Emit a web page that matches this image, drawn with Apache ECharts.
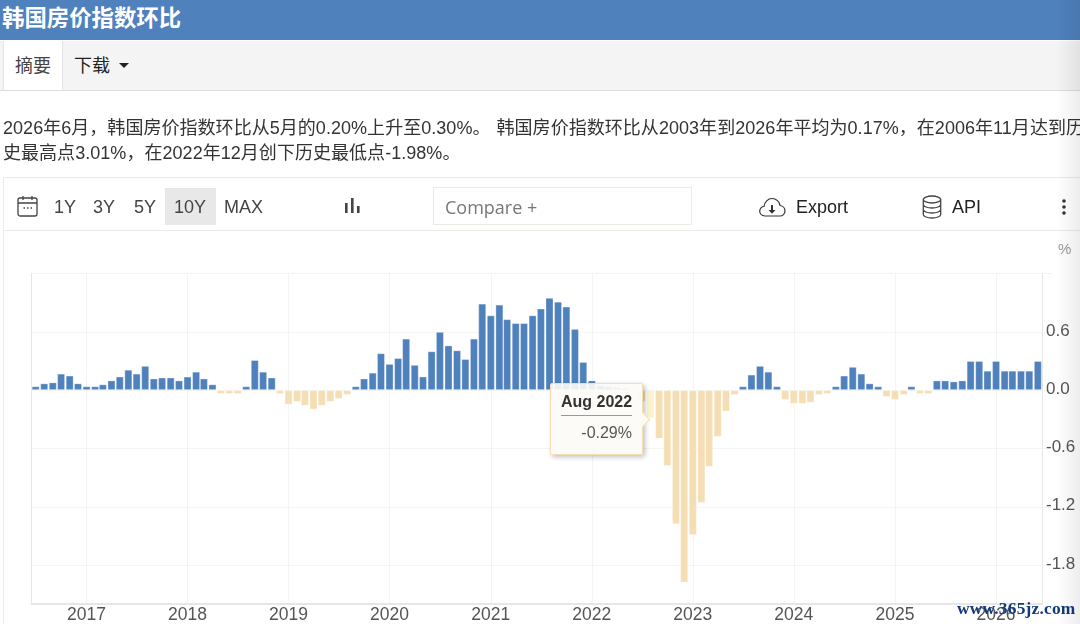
<!DOCTYPE html>
<html lang="zh">
<head>
<meta charset="utf-8">
<title>韩国房价指数环比</title>
<script src="https://cdn.jsdelivr.net/npm/echarts@6/dist/echarts.min.js"></script>
<style>
html,body{margin:0;padding:0;width:1080px;height:624px;overflow:hidden;background:#fff;font-family:"Liberation Sans","Noto Sans CJK SC",sans-serif;}
.abs{position:absolute;white-space:nowrap;}
#chart{position:absolute;left:0;top:0;width:1080px;height:624px;}
#title{left:0;top:0;width:1080px;height:40px;background:#4f81bd;color:#fff;font-size:22.4px;font-weight:bold;line-height:38px;padding-left:2px;box-sizing:border-box;}
#nav{left:0;top:41px;width:1080px;height:50px;background:#f4f4f4;border-bottom:1px solid #ddd;box-sizing:border-box;}
#tab{left:3px;top:41px;width:60px;height:49px;background:#fff;border-left:1px solid #e4e4e4;border-right:1px solid #e4e4e4;box-sizing:border-box;color:#444;font-size:18px;line-height:50px;text-align:center;}
#dl{left:74px;top:41px;color:#222;font-size:18px;line-height:50px;}
#caret{left:119px;top:63px;width:0;height:0;border-left:5px solid transparent;border-right:5px solid transparent;border-top:5px solid #222;}
.para{left:3px;color:#333;font-size:18px;line-height:25px;width:1077px;overflow:hidden;letter-spacing:.04px;word-spacing:1px;}
.tb{font-size:18px;color:#444;line-height:24px;top:195px;}
#frame{left:3px;top:177px;width:1077px;height:54px;border:1px solid #ebebeb;border-right:none;box-sizing:border-box;}
#frameL{left:3px;top:231px;width:1px;height:393px;background:#ebebeb;}
#active{left:165px;top:188px;width:51px;height:37px;background:#e8e8e8;}
#cmp{left:433px;top:187px;width:259px;height:38px;border:1px solid #ecebe4;box-sizing:border-box;color:#777;font-size:18px;line-height:38px;padding-left:11px;font-family:"Open Sans",sans-serif;}
#pct{left:1058px;top:240px;color:#999;font-size:15px;}
#mark{left:957px;top:598px;color:#123a7c;font-family:"Liberation Serif",serif;font-weight:bold;font-size:17.4px;letter-spacing:.2px;}
#shade{left:1056px;top:0;width:24px;height:624px;background:linear-gradient(to right,rgba(0,0,0,0),rgba(0,0,0,.07));pointer-events:none;}
svg{position:absolute;overflow:visible;}
</style>
</head>
<body>
<div id="chart"></div>
<div class="abs" id="title">韩国房价指数环比</div>
<div class="abs" id="nav"></div>
<div class="abs" id="tab">摘要</div>
<div class="abs" id="dl">下载</div>
<div class="abs" id="caret"></div>
<div class="abs para" style="top:116px">2026年6月，韩国房价指数环比从5月的0.20%上升至0.30%。 韩国房价指数环比从2003年到2026年平均为0.17%，在2006年11月达到历</div>
<div class="abs para" style="top:141px">史最高点3.01%，在2022年12月创下历史最低点-1.98%。</div>
<div class="abs" id="frame"></div>
<div class="abs" id="frameL"></div>
<div class="abs" id="active"></div>
<svg style="left:17px;top:195px" width="21" height="23" fill="none" stroke="#444" stroke-width="1.3"><rect x="1" y="3" width="19" height="18" rx="2"/><path d="M1 8h19M6 1v4M15 1v4"/><path d="M6.5 13h1.5M10 13h1.5M13.5 13h1.5" stroke-width="1.6"/></svg>
<div class="abs tb" style="left:54px">1Y</div>
<div class="abs tb" style="left:93px">3Y</div>
<div class="abs tb" style="left:134px">5Y</div>
<div class="abs tb" style="left:174px">10Y</div>
<div class="abs tb" style="left:224px">MAX</div>
<svg style="left:344px;top:197px" width="17" height="18" fill="#444"><rect x="1" y="6" width="2.6" height="10"/><rect x="7" y="1" width="2.6" height="15"/><rect x="13" y="9" width="2.6" height="7"/></svg>
<div class="abs" id="cmp">Compare +</div>
<svg style="left:759px;top:197px" width="27" height="21" fill="none" stroke="#333" stroke-width="1.2"><path d="M6 19C2.5 19 .7 16.500 .7 14 .7 11.500 2.800 9.500 5 9.500 5.500 5 9 1.500 13 1.500 17.500 1.500 20.500 5 21 8.500 24 9 26 11.500 26 14 26 17 23.500 19 21 19Z"/><path d="M13 8v7" stroke-width="2"/><path d="M9.500 13h7L13 16.800Z" fill="#333" stroke="none"/></svg>
<div class="abs tb" style="left:796px;color:#222">Export</div>
<svg style="left:922px;top:195px" width="20" height="24" fill="none" stroke="#444" stroke-width="1.3"><ellipse cx="10" cy="4.500" rx="8.700" ry="3.500"/><path d="M1.300 4.500v15c0 2 4 3.500 8.700 3.500s8.700-1.500 8.700-3.500v-15M1.300 9.500c0 2 4 3.500 8.700 3.500s8.700-1.500 8.700-3.500M1.300 14.500c0 2 4 3.500 8.700 3.500s8.700-1.500 8.700-3.500"/></svg>
<div class="abs tb" style="left:952px;color:#222">API</div>
<svg style="left:1061px;top:198px" width="6" height="18" fill="#333"><circle cx="3" cy="3" r="1.800"/><circle cx="3" cy="9" r="1.800"/><circle cx="3" cy="15" r="1.800"/></svg>
<div class="abs" id="pct">%</div>
<div class="abs" id="mark">www.365jz.com</div>
<div class="abs" id="shade"></div>
<script>
var months = [
'2016-07-01','2016-08-01','2016-09-01','2016-10-01','2016-11-01','2016-12-01',
'2017-01-01','2017-02-01','2017-03-01','2017-04-01','2017-05-01','2017-06-01','2017-07-01','2017-08-01','2017-09-01','2017-10-01','2017-11-01','2017-12-01',
'2018-01-01','2018-02-01','2018-03-01','2018-04-01','2018-05-01','2018-06-01','2018-07-01','2018-08-01','2018-09-01','2018-10-01','2018-11-01','2018-12-01',
'2019-01-01','2019-02-01','2019-03-01','2019-04-01','2019-05-01','2019-06-01','2019-07-01','2019-08-01','2019-09-01','2019-10-01','2019-11-01','2019-12-01',
'2020-01-01','2020-02-01','2020-03-01','2020-04-01','2020-05-01','2020-06-01','2020-07-01','2020-08-01','2020-09-01','2020-10-01','2020-11-01','2020-12-01',
'2021-01-01','2021-02-01','2021-03-01','2021-04-01','2021-05-01','2021-06-01','2021-07-01','2021-08-01','2021-09-01','2021-10-01','2021-11-01','2021-12-01',
'2022-01-01','2022-02-01','2022-03-01','2022-04-01','2022-05-01','2022-06-01','2022-07-01','2022-08-01','2022-09-01','2022-10-01','2022-11-01','2022-12-01',
'2023-01-01','2023-02-01','2023-03-01','2023-04-01','2023-05-01','2023-06-01','2023-07-01','2023-08-01','2023-09-01','2023-10-01','2023-11-01','2023-12-01',
'2024-01-01','2024-02-01','2024-03-01','2024-04-01','2024-05-01','2024-06-01','2024-07-01','2024-08-01','2024-09-01','2024-10-01','2024-11-01','2024-12-01',
'2025-01-01','2025-02-01','2025-03-01','2025-04-01','2025-05-01','2025-06-01','2025-07-01','2025-08-01','2025-09-01','2025-10-01','2025-11-01','2025-12-01',
'2026-01-01','2026-02-01','2026-03-01','2026-04-01','2026-05-01','2026-06-01'];
var values = [
0.04,0.07,0.08,0.17,0.15,0.07,
0.04,0.04,0.06,0.10,0.14,0.21,0.17,0.25,0.12,0.13,0.13,0.10,
0.14,0.19,0.12,0.06,-0.04,-0.04,-0.04,0.04,0.31,0.19,0.13,-0.04,
-0.15,-0.12,-0.16,-0.20,-0.16,-0.12,-0.09,-0.05,0.04,0.12,0.18,0.38,
0.27,0.33,0.53,0.26,0.14,0.40,0.60,0.46,0.41,0.32,0.53,0.89,
0.77,0.88,0.73,0.69,0.69,0.77,0.84,0.95,0.91,0.86,0.63,0.29,
0.10,0.05,0.04,0.03,0.02,0.01,-0.12,-0.29,-0.50,-0.78,-1.38,-1.98,
-1.49,-1.16,-0.79,-0.48,-0.22,-0.05,0.04,0.16,0.25,0.19,0.04,-0.10,
-0.14,-0.14,-0.13,-0.05,-0.04,0.04,0.15,0.24,0.17,0.07,0.04,-0.07,
-0.10,-0.05,0.04,-0.04,-0.04,0.10,0.10,0.09,0.10,0.30,0.30,0.20,
0.30,0.20,0.20,0.20,0.20,0.30];
var yearTicks = ['2017-01-01','2018-01-01','2019-01-01','2020-01-01','2021-01-01','2022-01-01','2023-01-01','2024-01-01','2025-01-01','2026-01-01'];
var valueTicks = [-1.8,-1.2,-0.6,0,0.6,1.2];
var tipMonth = 'Aug 2022';
var tipIndex = months.indexOf('2022-08-01');

function ms(d){ return Date.UTC(+d.slice(0,4), +d.slice(5,7)-1, +d.slice(8,10)); }
var chart = echarts.init(document.getElementById('chart'), null, {renderer:'canvas'});
var dotted = {color:'#e9e9e9', type:'dotted', width:1};
var labelColor = '#555';
chart.setOption({
  animation:false,
  textStyle:{fontFamily:'"Liberation Sans",sans-serif'},
  grid:{left:31.5, right:38, top:273.5, bottom:20, containLabel:false},
  tooltip:{
    trigger:'item', alwaysShowContent:true, transitionDuration:0, showDelay:0, hideDelay:0,
    backgroundColor:'rgba(252,251,247,0.9)', borderColor:'#f5deb3', borderWidth:1, padding:0,
    extraCssText:'box-shadow:2px 2px 5px rgba(0,0,0,.25);border-radius:2px;overflow:visible;',
    position:function(){return [550,383];},
    formatter:function(p){
      var v = p.value[1].toFixed(2)+'%';
      return '<div style="position:relative;width:91px;height:70px;box-sizing:border-box;padding:8px 10px 0 10px;font-family:\'Liberation Sans\',sans-serif;">'
        +'<div style="font-size:16px;font-weight:bold;color:#333;line-height:20px;border-bottom:1px solid #999;padding-bottom:3px;">'+tipMonth+'</div>'
        +'<div style="font-size:16px;color:#555;text-align:right;line-height:20px;margin-top:7px;">'+v+'</div>'
        +'<div style="position:absolute;right:-6px;top:30px;width:10px;height:10px;background:#fcfbf7;border-top:1px solid #f5deb3;border-right:1px solid #f5deb3;transform:rotate(45deg);"></div>'
        +'</div>';
    }
  },
  xAxis:{
    type:'value',
    min:ms('2016-06-16'), max:ms('2026-06-16'),
    axisLine:{show:true, onZero:false, lineStyle:{color:'#e6e6e6', width:2}},
    axisTick:{show:false, customValues:yearTicks.map(ms)},
    splitLine:{show:true, lineStyle:dotted},
    axisLabel:{
      color:labelColor, fontSize:17.5, margin:2, hideOverlap:false,
      customValues:yearTicks.map(ms),
      formatter:function(v){return String(new Date(v).getUTCFullYear());}
    }
  },
  yAxis:[{
    type:'value', position:'right', min:-2.2, max:1.2,
    axisLine:{show:true, lineStyle:{color:'#e6e6e6', width:1}},
    axisTick:{show:true, length:10, customValues:valueTicks, lineStyle:dotted},
    splitLine:{show:true, lineStyle:dotted},
    axisLabel:{
      color:labelColor, fontSize:17, margin:4, verticalAlign:'bottom', lineHeight:2,
      customValues:valueTicks.slice(0,5),
      formatter:function(v){return v.toFixed(1);}
    }
  },{
    type:'value', position:'left', min:-2.2, max:1.2,
    axisLine:{show:true, lineStyle:{color:'#e6e6e6', width:1}},
    axisTick:{show:false}, axisLabel:{show:false}, splitLine:{show:false}
  }],
  series:[{
    type:'bar', yAxisIndex:0, barWidth:8,
    data:months.map(function(m,i){return [ms(m), values[i]];}),
    itemStyle:{
      borderWidth:1, borderColor:'rgba(255,255,255,0.3)',
      color:function(p){
        if(p.dataIndex===tipIndex) return '#fdf4cb';
        return p.value[1]<0 ? '#f5deb3' : '#4f81bd';
      }
    },
    emphasis:{disabled:true}
  }]
});
chart.dispatchAction({type:'showTip', seriesIndex:0, dataIndex:tipIndex});
</script>
</body>
</html>
